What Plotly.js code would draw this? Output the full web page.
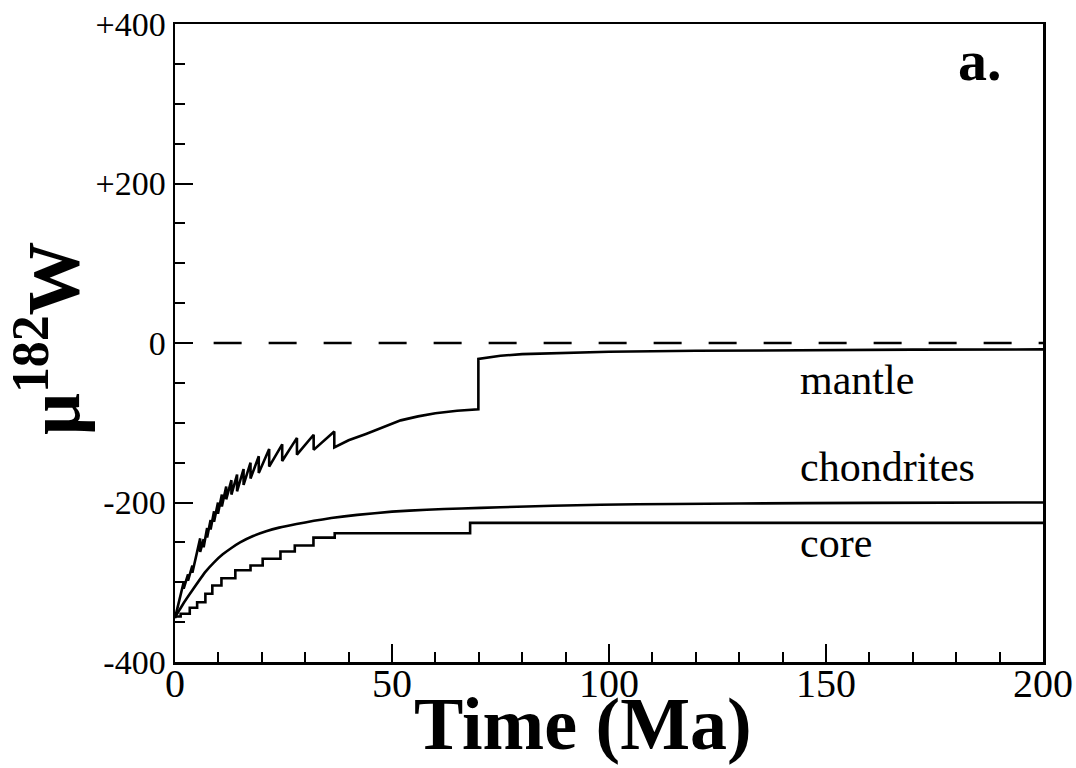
<!DOCTYPE html>
<html>
<head>
<meta charset="utf-8">
<script src="https://cdn.plot.ly/plotly-3.0.1.min.js"></script>
<style>html,body{margin:0;padding:0;background:#fff;}#chart{width:1076px;height:768px;}</style>
</head>
<body>
<div id="chart"></div>
<script>
// ---- data ----
const mantleTime = [0, 2.0, 2.0, 3.0, 3.0, 4.0, 4.0, 5.8, 5.8, 6.6, 6.6, 7.4, 7.4, 8.2, 8.2, 9.0, 9.0, 9.9, 9.9, 10.8, 10.8, 11.8, 11.8, 13.0, 13.0, 14.3, 14.3, 15.8, 15.8, 17.4, 17.4, 19.3, 19.3, 21.7, 21.7, 24.7, 24.7, 28.1, 28.1, 31.95, 31.95, 36.7, 36.7, 40, 44, 48, 52, 56, 60, 65, 69.9, 69.9, 72, 75, 80, 90, 100, 120, 140, 170, 200];
const mantleMu   = [-345, -300, -308, -290, -298, -279, -288, -245, -262, -246, -256, -232, -244, -222, -234, -211, -224, -200, -214, -190, -205, -180, -196, -172, -190, -165, -186, -158, -178, -150, -170, -142, -163, -133, -155, -127, -148, -119, -140, -115, -134, -111, -131, -122, -114, -105, -97, -92, -88, -85, -83, -20, -18, -16, -14, -12.5, -11, -9.8, -9, -8.3, -8];

const chondriteTime = [0, 1, 2, 4, 7, 9, 11, 13, 15, 18, 21, 24, 28, 32, 36, 42, 50, 58, 66, 75, 87, 98, 115, 130, 160, 200];
const chondriteMu   = [-344, -335, -326, -310, -287, -275, -265, -257, -250, -242, -236, -231.5, -227, -223, -219.5, -215.5, -211.5, -209, -207.5, -206, -204, -202.8, -201.8, -201.2, -200.5, -200];

const coreTime = [0, 1.3, 3.4, 5.1, 7.0, 8.6, 10.7, 13.9, 17.4, 20.2, 24.3, 27.6, 31.9, 36.8, 68.0, 200];
const coreMu   = [-343, -339.5, -332, -325, -314.5, -304, -295, -285, -279, -270.6, -261.5, -254, -244, -238.5, -225.5, -225.5];

const zeroLineTime = [8.9, 200];
const zeroLineMu = [0, 0];

const xTickVals = [0, 50, 100, 150, 200];
const xTickText = ['0', '50', '100', '150', '200'];
const yTickVals = [-400, -200, 0, 200, 400];
const yTickText = ['-400', '-200', '0', '+200', '+400'];

const xTitle = '<b>Time (Ma)</b>';
const yTitle = '<b>μ<sup>182</sup>W</b>';

const seriesLabels = [
  {text: 'mantle', t: 143.5, mu: -47},
  {text: 'chondrites', t: 143.5, mu: -156},
  {text: 'core', t: 143.5, mu: -251}
];
const panelLabel = {text: '<b>a.</b>', t: 185.5, mu: 354};

// ---- chart ----
const FONT = 'Liberation Serif, Times New Roman, serif';
const lineStyle = {color: '#000', width: 2.6};

const traces = [
  {x: zeroLineTime, y: zeroLineMu, mode: 'lines', line: {color: '#000', width: 2.4, dash: '28px,27px'}, hoverinfo: 'skip'},
  {x: mantleTime, y: mantleMu, mode: 'lines', line: lineStyle, name: 'mantle'},
  {x: chondriteTime, y: chondriteMu, mode: 'lines', line: Object.assign({shape: 'spline', smoothing: 0.4}, lineStyle), name: 'chondrites'},
  {x: coreTime, y: coreMu, mode: 'lines', line: Object.assign({shape: 'hv'}, lineStyle), name: 'core'}
];

const annotations = seriesLabels.map(l => ({
  x: l.t, y: l.mu, xref: 'x', yref: 'y', text: l.text, showarrow: false,
  xanchor: 'left', yanchor: 'middle', font: {family: FONT, size: 42, color: '#000'}
}));
annotations.push({
  x: panelLabel.t, y: panelLabel.mu, xref: 'x', yref: 'y', text: panelLabel.text, showarrow: false,
  xanchor: 'center', yanchor: 'middle', font: {family: FONT, size: 58, color: '#000'}
});
// axis titles placed as annotations for exact positioning
annotations.push({
  x: 0.47, y: -0.097, xref: 'paper', yref: 'paper', text: xTitle, showarrow: false,
  xanchor: 'center', yanchor: 'middle', font: {family: FONT, size: 74, color: '#000'}
});
annotations.push({
  x: -0.145, y: 0.508, xref: 'paper', yref: 'paper', text: yTitle, showarrow: false, textangle: -90,
  xanchor: 'center', yanchor: 'middle', font: {family: FONT, size: 74, color: '#000'}
});

const layout = {
  width: 1076, height: 768,
  margin: {l: 175, r: 33, t: 24, b: 106},
  paper_bgcolor: '#fff', plot_bgcolor: '#fff',
  showlegend: false,
  font: {family: FONT, color: '#000'},
  xaxis: {
    range: [0, 200], tickmode: 'array', tickvals: xTickVals, ticktext: xTickText,
    ticks: 'inside', ticklen: 18, tickwidth: 2, tickcolor: '#000',
    minor: {dtick: 10, ticks: 'inside', ticklen: 10, tickwidth: 2, tickcolor: '#000'},
    showline: true, linecolor: '#000', linewidth: 2.5, mirror: true,
    showgrid: false, zeroline: false, automargin: false,
    ticklabelstandoff: -16,
    tickfont: {family: FONT, size: 40, color: '#000'}
  },
  yaxis: {
    range: [-400, 400], tickmode: 'array', tickvals: yTickVals, ticktext: yTickText,
    ticks: 'inside', ticklen: 18, tickwidth: 2, tickcolor: '#000',
    minor: {dtick: 50, ticks: 'inside', ticklen: 10, tickwidth: 2, tickcolor: '#000'},
    showline: true, linecolor: '#000', linewidth: 2.5, mirror: true,
    showgrid: false, zeroline: false, automargin: false,
    tickfont: {family: FONT, size: 34, color: '#000'}
  },
  annotations: annotations
};

Plotly.newPlot('chart', traces, layout, {staticPlot: true, displayModeBar: false});
</script>
</body>
</html>
